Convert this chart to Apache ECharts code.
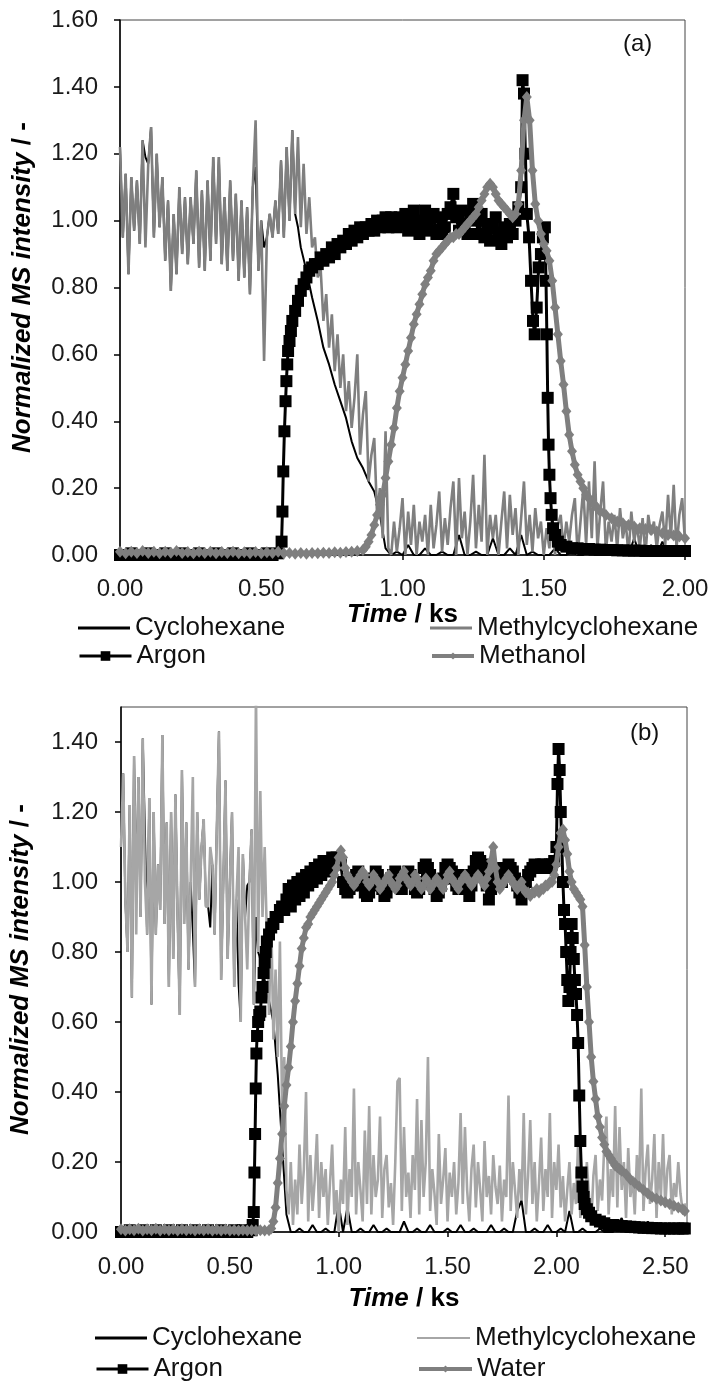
<!DOCTYPE html>
<html><head><meta charset="utf-8">
<script src="https://cdn.jsdelivr.net/npm/echarts@6/dist/echarts.min.js"></script>
<style>html,body{margin:0;padding:0;background:#fff}#c{width:714px;height:1383px}</style>
</head><body><div id="c"></div>
<script>
// ---------- Panel (a) data ----------
const xTicksA = [0, 0.5, 1.0, 1.5, 2.0];
const yTicksA = [0, 0.2, 0.4, 0.6, 0.8, 1.0, 1.2, 1.4, 1.6];
// Cyclohexane (a): 0.00-0.63 ks every 0.01 ks, then from 0.64 ks every 0.02 ks
const cycAEarlyStep = 0.01;
const cyclohexaneAEarly = [1.22,0.95,1.14,0.84,1.13,0.97,1.12,0.93,1.24,1.19,
 1.17,1.28,0.95,1.2,0.98,1.13,0.88,1.06,0.79,1.02,
 0.84,1.1,0.9,1.07,0.87,1.07,0.93,1.15,0.86,1.09,
 0.85,1.12,0.88,1.19,0.93,1.19,0.87,1.07,0.85,1.12,
 0.88,1.08,0.82,1.06,0.83,1.04,0.78,1.1,1.16,0.85,
 1.0,0.92,0.95,1.02,0.95,1.06,0.96,1.18,0.95,1.22,
 1.0,1.27,1.02,0.98];
const cycALateStart = 0.64, cycALateStep = 0.02;
const cyclohexaneALate = [0.92,0.85,0.77,0.7,0.62,0.57,0.51,0.46,0.41,0.34,0.29,0.26,0.22,0.19,0.12,0.02,0.0,
 0.01,0.0,0.03,0.0,0.0,0.02,0.0,0.0,0.01,0.0,
 0.0,0.06,0.0,0.0,0.01,0.0,0.0,0.05,0.0,0.0,
 0.02,0.0,0.06,0.0,0.01,0.0,0.0,0.0,0.02,0.0,
 0.0,0.01,0.0,0.0,0.03,0.0,0.0,0.01,0.0,0.0,
 0.02,0.0,0.05,0.0,0.0,0.03,0.0,0.04,0.0,0.0,
 0.02,0.0];
const stepMchA = 0.01;
const methylcyclohexaneA = [1.22,0.95,1.14,0.84,1.13,0.97,1.12,0.93,1.24,0.92,
 1.17,1.28,0.95,1.2,0.98,1.13,0.88,1.06,0.79,1.02,
 0.84,1.1,0.9,1.07,0.87,1.07,0.93,1.15,0.86,1.09,
 0.85,1.12,0.88,1.19,0.93,1.19,0.87,1.07,0.85,1.12,
 0.88,1.08,0.82,1.06,0.83,1.04,0.78,1.1,1.3,0.85,
 1.0,0.58,0.95,1.02,0.95,1.06,0.96,1.18,0.95,1.22,
 1.0,1.27,1.02,1.25,0.98,1.17,0.96,1.07,0.92,0.95,
 0.83,0.86,0.7,0.78,0.62,0.72,0.55,0.66,0.5,0.6,
 0.43,0.52,0.38,0.47,0.6,0.3,0.42,0.49,0.22,0.3,
 0.35,0.12,0.2,0.05,0.37,0.02,
 0.0,0.1,0.01,0.08,
 0.17,0.0,0.13,0.03,0.15,0.0,0.1,0.04,0.12,0.0,
 0.15,0.02,0.09,0.19,0.01,0.11,0.03,0.14,0.22,0.0,
 0.23,0.05,0.13,0.0,0.1,0.24,0.02,0.15,0.04,0.3,
 0.0,0.12,0.05,0.12,0.0,0.1,0.19,0.02,0.18,0.06,
 0.14,0.0,0.11,0.22,0.03,0.12,0.01,0.14,0.05,0.1,
 0.0,0.08,0.02,0.11,0.0,0.09,0.12,0.02,0.1,0.04,
 0.12,0.17,0.0,0.1,0.2,0.03,0.22,0.05,0.28,0.02,
 0.13,0.22,0.01,0.1,0.04,0.12,0.02,0.14,0.05,0.1,
 0.0,0.13,0.04,0.09,0.02,0.11,0.0,0.12,0.06,0.1,
 0.02,0.09,0.13,0.03,0.18,0.05,0.21,0.02,0.12,0.17,
 0.04];
const argonA = [[0,0],[0.02,0],[0.04,0.005],[0.06,0],[0.08,0],[0.1,0.005],[0.12,0],[0.14,0],[0.16,0.005],[0.18,0],[0.2,0],[0.22,0.005],[0.24,0],[0.26,0],[0.28,0.005],[0.3,0],[0.32,0],[0.34,0.005],[0.36,0],[0.38,0],[0.4,0.005],[0.42,0],[0.44,0],[0.46,0.005],[0.48,0],[0.5,0],[0.52,0.005],[0.54,0],[0.56,0.005],
 [0.572,0.04],[0.575,0.13],[0.578,0.25],[0.582,0.37],[0.586,0.46],[0.589,0.52],[0.592,0.57],[0.595,0.61],[0.6,0.64],[0.605,0.67],[0.61,0.7],[0.62,0.73],[0.63,0.76],[0.64,0.79],[0.65,0.81],[0.66,0.83],[0.67,0.85],[0.68,0.86],[0.69,0.87],[0.7,0.87],[0.71,0.89],[0.72,0.88],[0.73,0.9],[0.74,0.89],[0.75,0.92],[0.76,0.9],[0.77,0.93],[0.78,0.92],[0.79,0.94],[0.8,0.93],[0.81,0.96],[0.82,0.94],[0.83,0.97],[0.84,0.95],[0.85,0.98],[0.86,0.96],[0.87,0.98],[0.88,0.97],[0.89,0.99],[0.9,0.97],[0.91,1.0],[0.92,0.98],[0.93,1.0],[0.94,1.01],[0.95,0.98],[0.96,1.01],[0.97,0.99],[0.98,0.98],[0.99,1.01],
 [1.0,0.99],[1.01,1.02],[1.02,0.97],[1.03,1.0],[1.04,1.03],[1.05,0.98],[1.06,0.96],[1.07,1.0],[1.08,1.03],[1.09,0.99],[1.1,0.97],[1.11,1.02],[1.12,0.96],[1.13,1.01],[1.14,0.96],[1.15,0.98],[1.16,1.02],[1.17,1.04],[1.18,1.08],[1.19,1.01],[1.2,0.97],[1.21,1.03],[1.22,0.99],[1.23,0.96],[1.24,1.02],[1.25,1.05],[1.26,1.0],[1.27,0.96],[1.28,1.02],[1.29,0.95],[1.3,0.99],[1.31,0.94],[1.32,0.98],[1.33,1.01],[1.34,0.96],[1.35,0.93],[1.36,0.98],[1.37,0.95],[1.38,0.99],[1.39,0.96],[1.4,1.0],[1.41,1.04],
 [1.42,1.1],[1.425,1.42],[1.43,1.38],[1.435,1.2],[1.44,1.02],[1.448,0.95],[1.455,0.82],[1.462,0.7],[1.468,0.66],[1.475,0.74],[1.482,0.86],[1.49,0.9],[1.497,0.95],[1.504,0.98],[1.508,0.82],[1.511,0.66],[1.514,0.47],[1.517,0.33],[1.52,0.24],[1.524,0.17],[1.528,0.12],[1.533,0.08],[1.54,0.06],[1.55,0.04],[1.56,0.03],[1.58,0.025],[1.6,0.02],
 [1.62,0.02],[1.64,0.018],[1.66,0.018],[1.68,0.016],[1.7,0.016],[1.72,0.015],[1.74,0.015],[1.76,0.014],[1.78,0.014],[1.8,0.013],[1.82,0.013],[1.84,0.013],[1.86,0.012],[1.88,0.012],[1.9,0.012],[1.92,0.012],[1.94,0.012],[1.96,0.012],[1.98,0.012],[2.0,0.012]];
const methanolA = [[0,0.01],[0.02,0.005],[0.04,0.01],[0.06,0.006],[0.08,0.012],[0.1,0.006],[0.12,0.01],[0.14,0.005],[0.16,0.01],[0.18,0.007],[0.2,0.012],[0.22,0.006],[0.24,0.009],[0.26,0.005],[0.28,0.01],[0.3,0.006],[0.32,0.01],[0.34,0.005],[0.36,0.009],[0.38,0.006],[0.4,0.01],[0.42,0.005],[0.44,0.008],[0.46,0.005],[0.48,0.009],[0.5,0.005],[0.52,0.008],[0.54,0.006],[0.56,0.01],[0.58,0.005],[0.6,0.006],[0.62,0.004],[0.64,0.006],[0.66,0.004],[0.68,0.006],[0.7,0.005],[0.72,0.007],[0.74,0.006],[0.76,0.008],[0.78,0.007],[0.8,0.009],[0.82,0.01],[0.84,0.012],
 [0.86,0.015],[0.87,0.025],[0.88,0.04],[0.89,0.06],[0.9,0.09],[0.91,0.12],[0.92,0.15],[0.93,0.18],[0.94,0.23],[0.95,0.28],[0.96,0.33],[0.97,0.38],[0.98,0.44],[0.99,0.49],[1.0,0.53],[1.01,0.57],[1.02,0.61],[1.03,0.65],[1.04,0.69],[1.05,0.72],[1.06,0.75],[1.07,0.78],[1.08,0.81],[1.09,0.83],[1.1,0.85],[1.11,0.88],[1.12,0.9],[1.13,0.91],[1.14,0.92],[1.15,0.93],[1.16,0.94],[1.17,0.95],[1.18,0.95],[1.19,0.96],[1.2,0.96],[1.21,0.97],[1.22,0.98],[1.23,0.99],[1.24,1.0],[1.25,1.01],[1.26,1.02],[1.27,1.04],[1.28,1.06],[1.29,1.08],[1.3,1.1],[1.31,1.11],[1.32,1.1],[1.33,1.08],[1.34,1.06],[1.35,1.05],[1.36,1.04],[1.37,1.03],[1.38,1.02],[1.39,1.01],[1.4,1.02],[1.41,1.05],[1.42,1.15],[1.43,1.3],[1.44,1.37],[1.45,1.3],[1.46,1.15],[1.47,1.05],[1.48,1.0],[1.49,0.96],[1.5,0.93],[1.51,0.91],[1.52,0.88],[1.53,0.82],[1.54,0.74],[1.55,0.66],[1.56,0.58],[1.57,0.51],[1.58,0.43],[1.59,0.36],[1.6,0.31],[1.61,0.27],[1.62,0.24],[1.63,0.22],[1.64,0.2],[1.65,0.18],[1.66,0.17],[1.67,0.16],[1.68,0.15],[1.69,0.14],[1.7,0.13],[1.72,0.12],[1.74,0.11],[1.76,0.1],[1.78,0.095],[1.8,0.09],[1.82,0.085],[1.84,0.08],[1.86,0.078],[1.88,0.075],[1.9,0.07],[1.92,0.065],[1.94,0.06],[1.96,0.058],[1.98,0.055],[2.0,0.05]];

// ---------- Panel (b) data ----------
const xTicksB = [0, 0.5, 1.0, 1.5, 2.0, 2.5];
const yTicksB = [0, 0.2, 0.4, 0.6, 0.8, 1.0, 1.2, 1.4];
const cycBEarlyStep = 0.01;
const cyclohexaneBEarly = [1.1,1.31,0.95,0.8,1.22,0.67,1.36,0.96,1.3,0.9,
 1.41,1.14,0.85,1.24,0.65,1.2,0.85,1.05,0.92,1.42,
 0.88,1.17,0.7,1.2,0.78,1.25,0.9,0.62,1.32,0.88,
 1.17,0.75,1.0,0.86,0.7,1.2,0.95,1.1,1.18,0.93,
 0.93,0.87,1.05,0.85,1.15,1.43,0.72,1.0,1.29,0.78,
 1.0,1.2,0.7,0.95,0.71,0.6,1.08,0.9,0.99,1.0,
 1.15,0.65,0.9,0.8,0.78,0.75,0.72,0.69,0.66,0.63];
const cycBLateStart = 0.70, cycBLateStep = 0.02;
const cyclohexaneBLate = [0.6,0.45,0.25,0.05,
 0.0,0.0,0.01,0.0,0.0,0.02,0.0,0.0,0.01,0.0,
 0.0,0.08,0.0,0.07,0.0,0.0,0.01,0.0,0.0,0.02,
 0.0,0.0,0.01,0.0,0.0,0.0,0.03,0.0,0.0,0.01,
 0.0,0.0,0.02,0.0,0.0,0.0,0.01,0.0,0.0,0.02,
 0.0,0.0,0.01,0.0,0.0,0.0,0.02,0.0,0.0,0.01,
 0.0,0.0,0.06,0.09,0.0,0.0,0.01,0.0,0.0,0.02,
 0.0,0.0,0.01,0.0,0.06,0.0,0.0,0.01,0.0,0.0,
 0.0,0.01,0.0,0.0,0.0,0.02,0.04,0.0,0.0,0.01,
 0.0,0.0,0.03,0.0,0.0,0.01,0.0,0.0,0.02,0.0,
 0.0,0.0];
const stepMchB = 0.01;
const methylcyclohexaneB = [1.1,1.31,0.95,0.8,1.22,0.67,1.36,0.85,1.3,0.9,
 1.41,1.0,0.85,1.24,0.65,1.2,0.85,1.05,0.92,1.42,
 0.88,1.17,0.7,1.2,0.78,1.25,0.9,0.62,1.32,0.88,
 1.17,0.75,1.0,1.3,0.7,1.2,0.95,1.1,1.18,0.93,
 0.93,1.1,1.05,0.85,1.15,1.43,0.72,1.0,1.29,0.78,
 1.0,1.2,0.7,0.95,1.1,0.6,1.08,0.9,0.75,1.0,
 1.15,0.65,1.55,0.8,1.26,0.9,1.1,0.85,0.62,0.9,
 0.55,0.75,0.5,0.83,0.35,0.5,0.12,0.05,0.2,0.02,
 0.15,0.05,0.25,0.08,0.18,0.4,0.03,0.22,0.06,0.15,
 0.28,0.04,0.2,0.1,0.18,0.02,0.14,0.25,0.05,0.12,
 0.0,0.15,0.08,0.3,0.02,0.18,0.1,0.41,0.05,0.2,
 0.12,0.03,0.29,0.08,0.36,0.05,0.22,0.1,0.15,0.33,
 0.04,0.18,0.22,0.07,0.14,0.02,0.2,0.43,0.44,0.06,
 0.3,0.1,0.17,0.04,0.22,0.12,0.38,0.05,0.32,0.1,
 0.2,0.5,0.06,0.18,0.11,0.02,0.28,0.08,0.15,0.24,
 0.03,0.17,0.1,0.2,0.05,0.14,0.34,0.08,0.3,0.12,
 0.03,0.18,0.25,0.07,0.2,0.12,0.03,0.26,0.1,0.16,
 0.05,0.22,0.13,0.08,0.19,0.03,0.15,0.1,0.39,0.06,
 0.2,0.12,0.04,0.18,0.09,0.34,0.05,0.16,0.32,0.08,
 0.2,0.03,0.14,0.27,0.06,0.18,0.1,0.34,0.04,0.2,
 0.12,0.25,0.07,0.16,0.03,0.12,0.2,0.05,0.14,0.08,
 0.26,0.04,0.13,0.07,0.2,0.1,0.02,0.16,0.22,0.06,
 0.15,0.09,0.25,0.33,0.05,0.18,0.1,0.36,0.07,0.3,
 0.12,0.2,0.04,0.24,0.1,0.16,0.05,0.22,0.12,0.41,
 0.06,0.18,0.25,0.08,0.15,0.28,0.04,0.2,0.1,0.28,
 0.07,0.18,0.22,0.05,0.14,0.1,0.2,0.11,0.06,0.08,
 0.07];
const argonB = [[0,0],[0.02,0],[0.04,0.005],[0.06,0],[0.08,0],[0.1,0.005],[0.12,0],[0.14,0],[0.16,0.005],[0.18,0],[0.2,0],[0.22,0.005],[0.24,0],[0.26,0],[0.28,0.005],[0.3,0],[0.32,0],[0.34,0.005],[0.36,0],[0.38,0],[0.4,0.005],[0.42,0],[0.44,0],[0.46,0.005],[0.48,0],[0.5,0],[0.52,0.005],[0.54,0],[0.56,0.005],[0.58,0],[0.6,0.005],
 [0.605,0.02],[0.61,0.057],[0.613,0.17],[0.616,0.28],[0.619,0.41],[0.622,0.51],[0.625,0.56],[0.63,0.6],[0.635,0.62],[0.64,0.63],[0.645,0.67],[0.65,0.7],[0.655,0.74],[0.66,0.77],[0.665,0.8],[0.67,0.83],[0.68,0.85],[0.69,0.87],[0.7,0.88],[0.71,0.9],[0.72,0.9],[0.73,0.92],[0.74,0.93],[0.75,0.92],[0.76,0.95],[0.77,0.98],[0.78,0.93],[0.79,0.99],[0.8,0.95],[0.81,1.0],[0.82,0.96],[0.83,1.01],[0.84,0.97],[0.85,1.02],[0.86,0.99],[0.87,1.03],[0.88,1.0],[0.89,1.04],[0.9,1.01],[0.91,1.05],[0.92,1.02],[0.93,1.06],[0.94,1.03],[0.95,1.06],[0.96,1.04],[0.97,1.07],
 [0.98,1.06],[0.99,1.07],[1.0,1.06],[1.01,1.05],[1.02,1.0],[1.03,0.98],[1.04,0.97],[1.05,0.98],[1.06,0.99],[1.07,1.0],[1.08,1.02],[1.09,1.03],[1.1,1.01],[1.11,0.99],[1.12,0.97],[1.13,0.96],[1.14,0.97],[1.15,0.99],[1.16,1.01],[1.17,1.03],[1.18,1.02],[1.19,1.0],[1.2,0.98],[1.21,0.96],[1.22,0.97],[1.23,0.99],[1.24,1.01],[1.25,1.02],[1.26,1.03],[1.27,1.01],[1.28,0.99],[1.29,0.98],[1.3,1.0],[1.31,1.01],[1.32,1.03],[1.33,1.02],[1.34,1.0],[1.35,0.98],[1.36,0.97],[1.37,0.98],[1.38,1.0],[1.39,1.04],[1.4,1.05],[1.41,1.04],[1.42,1.02],[1.43,1.0],[1.44,0.98],[1.45,0.96],[1.46,0.97],[1.47,0.99],[1.48,1.01],[1.49,1.04],[1.5,1.05],[1.51,1.04],[1.52,1.03],[1.53,1.01],[1.54,0.99],[1.55,0.98],[1.56,1.0],[1.57,1.02],[1.58,1.01],[1.59,0.98],[1.6,0.96],[1.61,0.99],[1.62,1.03],[1.63,1.06],[1.64,1.07],[1.65,1.06],[1.66,1.05],[1.67,1.02],[1.68,0.99],[1.69,0.95],[1.7,0.98],[1.71,1.02],[1.72,1.04],[1.73,1.03],[1.74,1.02],[1.75,1.0],[1.76,1.02],[1.77,1.04],[1.78,1.05],[1.79,1.04],[1.8,1.03],[1.81,1.01],[1.82,0.99],[1.83,0.97],[1.84,0.95],[1.85,0.97],[1.86,1.0],[1.87,1.02],[1.88,1.03],[1.89,1.04],[1.9,1.05],[1.91,1.04],[1.92,1.04],[1.93,1.05],[1.94,1.05],[1.95,1.04],[1.96,1.04],[1.97,1.05],[1.98,1.05],[1.99,1.06],[2.0,1.1],
 [2.005,1.28],[2.01,1.38],[2.015,1.32],[2.02,1.2],[2.025,1.1],[2.03,1.0],[2.035,0.92],[2.04,0.88],[2.045,0.8],[2.05,0.72],[2.055,0.66],[2.06,0.7],[2.065,0.8],[2.07,0.88],[2.075,0.84],[2.08,0.78],[2.085,0.72],[2.09,0.68],[2.095,0.62],[2.1,0.54],[2.105,0.39],[2.11,0.26],[2.115,0.17],[2.12,0.13],[2.125,0.1],[2.13,0.08],[2.14,0.065],[2.15,0.055],[2.16,0.045],[2.18,0.035],[2.2,0.03],[2.22,0.025],[2.24,0.02],[2.26,0.02],[2.28,0.018],[2.3,0.017],[2.32,0.016],[2.34,0.015],[2.36,0.014],[2.38,0.013],[2.4,0.012],[2.42,0.012],[2.44,0.011],[2.46,0.011],[2.48,0.01],[2.5,0.01],[2.52,0.01],[2.54,0.01],[2.56,0.01],[2.58,0.01],[2.59,0.01]];
const waterB = [[0,0.008],[0.02,0.004],[0.04,0.008],[0.06,0.005],[0.08,0.009],[0.1,0.004],[0.12,0.008],[0.14,0.005],[0.16,0.009],[0.18,0.004],[0.2,0.008],[0.22,0.005],[0.24,0.008],[0.26,0.004],[0.28,0.008],[0.3,0.005],[0.32,0.008],[0.34,0.004],[0.36,0.008],[0.38,0.005],[0.4,0.008],[0.42,0.004],[0.44,0.007],[0.46,0.004],[0.48,0.007],[0.5,0.004],[0.52,0.006],[0.54,0.004],[0.56,0.006],[0.58,0.004],[0.6,0.005],[0.62,0.004],[0.64,0.005],[0.66,0.004],
 [0.68,0.005],[0.69,0.01],[0.7,0.03],[0.71,0.07],[0.72,0.14],[0.73,0.21],[0.74,0.28],[0.75,0.36],[0.76,0.42],[0.77,0.47],[0.78,0.53],[0.79,0.6],[0.8,0.66],[0.81,0.71],[0.82,0.76],[0.83,0.81],[0.84,0.84],[0.85,0.87],[0.86,0.88],[0.87,0.9],[0.88,0.91],[0.89,0.92],[0.9,0.93],[0.91,0.94],[0.92,0.95],[0.93,0.96],[0.94,0.97],[0.95,0.98],[0.96,0.99],[0.97,1.0],[0.98,1.02],[0.99,1.04],[1.0,1.07],[1.01,1.09],
 [1.02,1.07],[1.03,1.04],[1.04,1.02],[1.05,1.01],[1.06,1.0],[1.07,0.99],[1.08,1.0],[1.09,1.01],[1.1,1.02],[1.11,1.03],[1.12,1.02],[1.13,1.0],[1.14,0.99],[1.15,1.0],[1.16,1.02],[1.17,1.01],[1.18,1.0],[1.19,0.98],[1.2,0.99],[1.21,1.0],[1.22,1.01],[1.23,1.02],[1.24,1.0],[1.25,0.99],[1.26,0.98],[1.27,0.99],[1.28,1.01],[1.29,1.02],[1.3,1.03],[1.31,1.01],[1.32,1.0],[1.33,0.99],[1.34,1.0],[1.35,1.02],[1.36,1.01],[1.37,0.99],[1.38,0.98],[1.39,0.99],[1.4,1.01],[1.41,1.0],[1.42,0.98],[1.43,0.99],[1.44,1.0],[1.45,1.01],[1.46,1.0],[1.47,0.99],[1.48,0.98],[1.49,1.0],[1.5,1.02],[1.51,1.03],[1.52,1.01],[1.53,1.0],[1.54,0.99],[1.55,0.98],[1.56,1.0],[1.57,1.01],[1.58,1.02],[1.59,1.01],[1.6,1.0],[1.61,0.99],[1.62,1.0],[1.63,1.01],[1.64,1.02],[1.65,1.01],[1.66,1.0],[1.67,0.99],[1.68,1.01],[1.69,1.03],[1.7,1.06],[1.71,1.1],[1.72,1.04],[1.73,1.0],[1.74,0.98],[1.75,0.99],[1.76,1.0],[1.77,1.01],[1.78,1.02],[1.79,1.01],[1.8,1.0],[1.81,0.99],[1.82,0.98],[1.83,0.99],[1.84,1.0],[1.85,0.98],[1.86,0.97],[1.87,0.97],[1.88,0.96],[1.89,0.97],[1.9,0.97],[1.91,0.98],[1.92,0.97],[1.93,0.98],[1.94,0.98],[1.95,0.99],[1.96,0.99],[1.97,1.0],[1.98,1.0],[1.99,1.02],[2.0,1.05],[2.01,1.1],[2.02,1.14],[2.03,1.15],
 [2.04,1.12],[2.05,1.08],[2.06,1.03],[2.07,1.0],[2.08,0.98],[2.09,0.97],[2.1,0.96],[2.11,0.95],[2.12,0.93],[2.13,0.82],[2.14,0.7],[2.15,0.6],[2.16,0.5],[2.17,0.43],[2.18,0.38],[2.19,0.33],[2.2,0.3],[2.21,0.27],[2.22,0.25],[2.23,0.23],[2.24,0.22],[2.25,0.21],[2.26,0.2],[2.27,0.19],[2.28,0.185],[2.29,0.18],[2.3,0.175],[2.32,0.165],[2.34,0.15],[2.36,0.14],[2.38,0.13],[2.4,0.12],[2.42,0.11],[2.44,0.1],[2.46,0.095],[2.48,0.09],[2.5,0.085],[2.52,0.08],[2.54,0.075],[2.56,0.07],[2.58,0.065],[2.59,0.06]];

// ---------- build chart ----------
const FONT = "'Liberation Sans', Arial, sans-serif";
const TXT = '#1a1a1a';
function sampled(vals, step, start){ start = start || 0; return vals.map((v,i)=>[+(start + i*step).toFixed(4), v]); }

function richName(){
  return {rich:{i:{fontStyle:'italic',fontWeight:'bold',fontSize:26,fontFamily:FONT,color:'#000'},
                n:{fontWeight:'bold',fontSize:26,fontFamily:FONT,color:'#000'}}};
}
function xAxis(gi, ticks, max, nameGap, labelMargin){
  return {type:'value', gridIndex:gi, min:0, max:max, interval:0.5,
    axisLine:{show:true,onZero:false,lineStyle:{color:'#000',width:1.5}},
    axisTick:{show:true,length:5,lineStyle:{color:'#000',width:1.5},customValues: ticks},
    axisLabel:{margin:labelMargin,fontSize:24,color:TXT,fontFamily:FONT,
      customValues: ticks, formatter:v=>(+v).toFixed(2)},
    splitLine:{show:false},
    name:'{i|Time }{n|/ ks}', nameLocation:'middle', nameGap:nameGap, nameTextStyle:richName()};
}
function yAxis(gi, ticks, max, nameGap, labelMargin){
  return {type:'value', gridIndex:gi, min:0, max:max, interval:0.2,
    axisLine:{show:true,onZero:false,lineStyle:{color:'#000',width:1.5}},
    axisTick:{show:true,length:6,lineStyle:{color:'#000',width:1.5},customValues:ticks},
    axisLabel:{margin:labelMargin,fontSize:24,color:TXT,fontFamily:FONT,
      customValues: ticks, formatter:v=>(+v).toFixed(2)},
    splitLine:{show:false},
    name:'{i|Normalized MS intensity }{n|/ -}', nameLocation:'middle', nameGap:nameGap, nameTextStyle:richName()};
}
function leg(name, left, top, w, h, extra){
  return {show:true, left:left, top:top, padding:0, itemGap:0, itemWidth:w, itemHeight:h,
    selectedMode:false, textStyle:{fontSize:26,color:'#111',fontFamily:FONT},
    data:[Object.assign({name:name}, extra||{})]};
}
const GRAY = '#7f7f7f', LGRAY = '#a6a6a6';
function lineS(name, gi, data, color, width, z, sym, symSize){
  return {type:'line', name:name, xAxisIndex:gi, yAxisIndex:gi, data:data,
    symbol: sym || 'none', symbolSize: symSize || 0, showSymbol: !!sym,
    lineStyle:{color:color,width:width}, itemStyle:{color:color,borderWidth:0},
    z:z, silent:true, animation:false, clip:true, emphasis:{disabled:true}};
}

const cycAData = sampled(cyclohexaneAEarly, cycAEarlyStep).concat(sampled(cyclohexaneALate, cycALateStep, cycALateStart));
const cycBData = sampled(cyclohexaneBEarly, cycBEarlyStep).concat(sampled(cyclohexaneBLate, cycBLateStep, cycBLateStart));

const chart = echarts.init(document.getElementById('c'), null, {renderer:'canvas'});
chart.setOption({
  animation:false,
  backgroundColor:'#fff',
  grid:[
    {left:120, top:20, width:565, height:535, show:true, borderColor:'#444', borderWidth:1, backgroundColor:'transparent', containLabel:false, outerBoundsMode:'none'},
    {left:121, top:707, width:566, height:525, show:true, borderColor:'#444', borderWidth:1, backgroundColor:'transparent', containLabel:false, outerBoundsMode:'none'}
  ],
  xAxis:[ xAxis(0, xTicksA, 2.0, 44, 22), xAxis(1, xTicksB, 2.6, 54, 23) ],
  yAxis:[ yAxis(0, yTicksA, 1.6, 84, 22), yAxis(1, yTicksB, 1.5, 87, 23) ],
  legend:[
    leg('Cyclohexane', 78, 615, 52, 3, {icon:'rect', itemStyle:{color:'#000',borderWidth:0}}),
    leg('Methylcyclohexane', 430, 615, 42, 3, {icon:'rect', itemStyle:{color:GRAY,borderWidth:0}}),
    leg('Argon', 78, 643, 52, 12, {lineStyle:{width:3}}),
    leg('Methanol', 430, 643, 42, 9, {lineStyle:{width:4}}),
    leg('Cyclohexane', 95, 1325, 52, 3, {icon:'rect', itemStyle:{color:'#000',borderWidth:0}}),
    leg('Methylcyclohexane', 417, 1325, 53, 2, {icon:'rect', itemStyle:{color:LGRAY,borderWidth:0}}),
    leg('Argon', 95, 1356, 52, 12, {lineStyle:{width:3}}),
    leg('Water', 417, 1356, 53, 9, {lineStyle:{width:4}})
  ],
  graphic:[
    {type:'text', left:623, top:32, style:{text:'(a)', font:'24px '+FONT, fill:'#111'}},
    {type:'text', left:630, top:721, style:{text:'(b)', font:'24px '+FONT, fill:'#111'}}
  ],
  series:[
    lineS('Cyclohexane', 0, cycAData, '#000', 2, 2),
    lineS('Methylcyclohexane', 0, sampled(methylcyclohexaneA, stepMchA), GRAY, 2.6, 3),
    lineS('Argon', 0, argonA, '#000', 3, 4, 'rect', 12),
    lineS('Methanol', 0, methanolA, GRAY, 5, 5, 'diamond', [10,12]),
    lineS('Cyclohexane', 1, cycBData, '#000', 2, 2),
    lineS('Methylcyclohexane', 1, sampled(methylcyclohexaneB, stepMchB), LGRAY, 2.6, 3),
    lineS('Argon', 1, argonB, '#000', 3, 4, 'rect', 12),
    lineS('Water', 1, waterB, GRAY, 5, 5, 'diamond', [10,12])
  ]
});
</script></body></html>
